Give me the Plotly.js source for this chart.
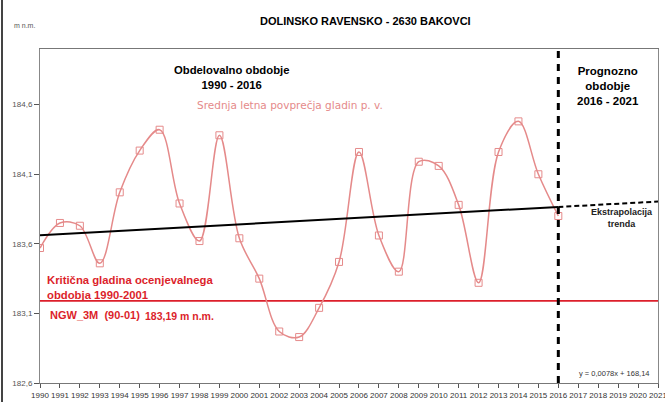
<!DOCTYPE html>
<html>
<head>
<meta charset="utf-8">
<script src="https://cdn.plot.ly/plotly-3.0.1.min.js"></script>
<style>
html,body{margin:0;padding:0;background:#fff;}
#chart{width:665px;height:402px;position:absolute;left:0;top:0;}
#edge{position:absolute;left:1px;top:0;width:2px;height:402px;background:#444;}
</style>
</head>
<body>
<div id="chart"></div>
<div id="edge"></div>
<script>
// Data
const years = [1990,1991,1992,1993,1994,1995,1996,1997,1998,1999,2000,2001,2002,2003,2004,2005,2006,2007,2008,2009,2010,2011,2012,2013,2014,2015,2016];
const levels = [183.57,183.75,183.73,183.46,183.97,184.27,184.42,183.89,183.62,184.38,183.64,183.35,182.97,182.93,183.14,183.47,184.26,183.66,183.40,184.19,184.16,183.88,183.32,184.26,184.48,184.10,183.80];
const trendSlope = 0.0078;
const trendIntercept = 168.14;
const observedYears = [1990, 2016];
const forecastYears = [2016, 2021];
const criticalLevel = 183.19;
const xTicks = [];
for (let y = 1990; y <= 2021; y++) xTicks.push(y);
const yTicks = [182.6, 183.1, 183.6, 184.1, 184.6];

const trend = xs => xs.map(x => trendSlope * x + trendIntercept);

const FONT = "Liberation Sans, Arial, sans-serif";
const pink = "#e58a8a";
const red = "#dc1f2b";

const traces = [
  {
    x: [1990, 2021], y: [criticalLevel, criticalLevel],
    mode: "lines", line: {color: red, width: 1.8}, hoverinfo: "skip"
  },
  {
    x: years, y: levels, mode: "lines+markers",
    line: {color: pink, width: 1.5, shape: "spline", smoothing: 1},
    marker: {symbol: "square-open", size: 7, color: pink, line: {width: 1, color: pink}}
  },
  {
    x: observedYears, y: trend(observedYears), mode: "lines",
    line: {color: "#000", width: 2}
  },
  {
    x: forecastYears, y: trend(forecastYears), mode: "lines",
    line: {color: "#000", width: 2, dash: "5px,3px"}
  }
];

const layout = {
  width: 665, height: 402,
  margin: {l: 40, r: 7, t: 49, b: 19},
  paper_bgcolor: "#fff", plot_bgcolor: "#fff",
  showlegend: false,
  separators: ", ",
  font: {family: FONT, color: "#444"},
  xaxis: {
    range: [1990, 2021], tickvals: xTicks, ticktext: xTicks.map(String),
    showgrid: false, zeroline: false, showline: true, linecolor: "#777", linewidth: 1,
    mirror: true, ticks: "outside", ticklen: 4, tickcolor: "#555",
    tickfont: {size: 8, color: "#333", family: FONT}, tickangle: 0,
    ticklabeloverflow: "allow"
  },
  yaxis: {
    range: [182.6, 185.0], tickvals: yTicks, ticktext: yTicks.map(v => v.toFixed(1).replace(".", ",")),
    showgrid: false, zeroline: false, showline: true, linecolor: "#888", linewidth: 1,
    mirror: true, ticks: "outside", ticklen: 5, tickcolor: "#555",
    tickfont: {size: 8, color: "#555", family: FONT}
  },
  shapes: [
    {type: "line", xref: "x", yref: "paper", x0: 2016, x1: 2016, y0: 0, y1: 1,
     line: {color: "#000", width: 3, dash: "7px,6px"}}
  ],
  annotations: [
    {text: "<b>DOLINSKO RAVENSKO - 2630 BAKOVCI</b>", xref: "paper", yref: "paper", x: (365-40)/618, y: 1 + (49-21)/334,
     showarrow: false, font: {size: 11, color: "#000", family: FONT}, xanchor: "center", yanchor: "middle"},
    {text: "m n.m.", xref: "paper", yref: "paper", x: (12-40)/618, y: 1 + (49-25)/334,
     showarrow: false, font: {size: 7, color: "#555", family: FONT}, xanchor: "left", yanchor: "middle"},
    {text: "<b>Obdelovalno obdobje<br>1990 - 2016</b>", xref: "paper", yref: "paper", x: (232-40)/618, y: 1 - (78-49)/334,
     showarrow: false, font: {size: 11.3, color: "#000", family: FONT}, xanchor: "center", yanchor: "middle", align: "center"},
    {text: "<b>Prognozno<br>obdobje<br>2016 - 2021</b>", xref: "paper", yref: "paper", x: (608-40)/618, y: 1 - (86-49)/334,
     showarrow: false, font: {size: 11.5, color: "#000", family: FONT}, xanchor: "center", yanchor: "middle", align: "center"},
    {text: "Srednja letna povprečja gladin p. v.", xref: "paper", yref: "paper", x: (290-40)/618, y: 1 - (105-49)/334,
     showarrow: false, font: {size: 10.5, color: pink, family: "DejaVu Sans, sans-serif"}, xanchor: "center", yanchor: "middle"},
    {text: "<b>Ekstrapolacija<br>trenda</b>", xref: "paper", yref: "paper", x: (622-40)/618, y: 1 - (218-49)/334,
     showarrow: false, font: {size: 9, color: "#222", family: FONT}, xanchor: "center", yanchor: "middle", align: "center"},
    {text: "<b>Kritična gladina ocenjevalnega<br>obdobja 1990-2001</b>", xref: "paper", yref: "paper", x: (45-40)/618, y: 1 - (287-49)/334,
     showarrow: false, font: {size: 11.3, color: red, family: FONT}, xanchor: "left", yanchor: "middle", align: "left"},
    {text: "<b>NGW_3M  (90-01)</b>", xref: "paper", yref: "paper", x: (48-40)/618, y: 1 - (315-49)/334,
     showarrow: false, font: {size: 11, color: red, family: FONT}, xanchor: "left", yanchor: "middle"},
    {text: "<b>183,19 m n.m.</b>", xref: "paper", yref: "paper", x: (143-40)/618, y: 1 - (316-49)/334,
     showarrow: false, font: {size: 10.5, color: red, family: FONT}, xanchor: "left", yanchor: "middle"},
    {text: "y = 0,0078x + 168,14", xref: "paper", yref: "paper", x: (577-40)/618, y: 1 - (373-49)/334,
     showarrow: false, font: {size: 7.5, color: "#333", family: FONT}, xanchor: "left", yanchor: "middle"}
  ]
};

Plotly.newPlot("chart", traces, layout, {displayModeBar: false, staticPlot: true});
</script>
</body>
</html>
